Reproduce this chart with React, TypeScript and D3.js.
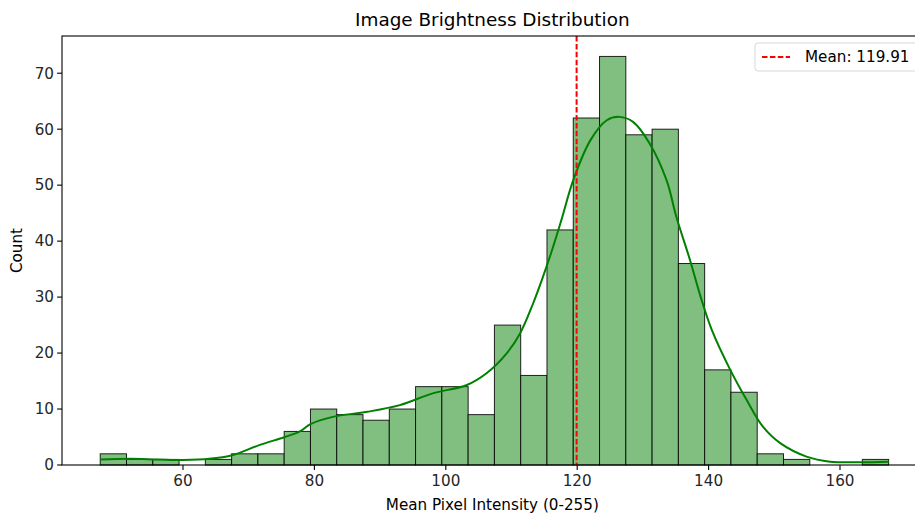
import React from 'react';
import * as d3 from 'd3';

// histogram bins (30 bins, ~4 units wide)
const binStart = 47.4;
const binWidth = 4.0;
const counts = [2, 1, 1, 0, 1, 2, 2, 6, 10, 9, 8, 10, 14, 14, 9, 25, 16, 42, 62, 73, 59, 60, 36, 17, 13, 2, 1, 0, 0, 1];

// kde curve (value, count)
const kdeX = [47.4, 52, 56, 60, 64, 67.6, 71.7, 75.5, 77.8, 79.4, 82.8, 88, 93, 98, 103.2, 106.2, 109.3, 111.3, 113.3, 114.6, 116.2, 117.6, 119.4, 122, 124.5, 126.4, 128.5, 131, 133.6, 135.1, 137.2, 138.8, 140.5, 143.3, 145.8, 148.3, 150.9, 154.9, 158.5, 163, 167.4];
const kdeY = [1.0, 1.1, 1.0, 0.9, 1.1, 1.8, 3.6, 5.0, 6.0, 7.3, 8.6, 9.5, 10.7, 12.8, 14.3, 16.4, 20, 23.5, 28.9, 33, 38.5, 43.8, 50.9, 58, 61.6, 62.2, 61.3, 57.5, 50.9, 44.3, 36.5, 30, 24.1, 17, 11.6, 6.8, 3.9, 1.5, 0.6, 0.5, 0.6];

const meanValue = 119.91;
const xTicks = [60, 80, 100, 120, 140, 160];
const yTicks = [0, 10, 20, 30, 40, 50, 60, 70];

const W = 915, H = 514;
const left = 62, top = 36, bottom = 465;

export default function App() {
  const x = d3.scaleLinear().domain([60, 160]).range([183, 840]);
  const y = d3.scaleLinear().domain([0, 76.65]).range([bottom, top]);
  const right = x(173.5);

  const kde = kdeX.map((v, i) => [v, kdeY[i]] as [number, number]);
  const line = d3.line<[number, number]>()
    .x(d => x(d[0]))
    .y(d => y(d[1]))
    .curve(d3.curveCatmullRom);

  const font = 'DejaVu Sans, sans-serif';
  const fs = 15.2;

  return (
    <svg width={W} height={H} style={{ position: 'fixed', left: 0, top: 0, background: '#fff' }} fontFamily={font}>
      {counts.map((c, i) => {
        const x0 = x(binStart + i * binWidth);
        const x1 = x(binStart + (i + 1) * binWidth);
        return (
          <rect key={i} x={x0} y={y(c)} width={x1 - x0} height={y(0) - y(c)}
            fill="#80bf80" stroke="#000" strokeWidth={1} strokeOpacity={0.85} />
        );
      })}
      <path d={line(kde) || ''} fill="none" stroke="#008000" strokeWidth={2} />
      <line x1={x(meanValue)} x2={x(meanValue)} y1={top} y2={bottom}
        stroke="#ff0000" strokeWidth={2} strokeDasharray="5.5,2.4" />

      {/* spines */}
      <rect x={left} y={top} width={right - left} height={bottom - top} fill="none" stroke="#000" strokeWidth={1.1} />

      {xTicks.map(t => (
        <g key={t} transform={`translate(${x(t)},${bottom})`}>
          <line y2={4.9} stroke="#000" strokeWidth={1.1} />
          <text y={21} textAnchor="middle" fontSize={fs} fill="#262626">{t}</text>
        </g>
      ))}
      {yTicks.map(t => (
        <g key={t} transform={`translate(${left},${y(t)})`}>
          <line x2={-4.9} stroke="#000" strokeWidth={1.1} />
          <text x={-8} dy="0.35em" textAnchor="end" fontSize={fs} fill="#262626">{t}</text>
        </g>
      ))}

      <text x={(left + right) / 2 - 3} y={26} textAnchor="middle" fontSize={18.4} fill="#000">Image Brightness Distribution</text>
      <text x={(left + right) / 2 - 3} y={510} textAnchor="middle" fontSize={fs} fill="#000">Mean Pixel Intensity (0-255)</text>
      <text transform={`translate(22,${(top + bottom) / 2}) rotate(-90)`} textAnchor="middle" fontSize={fs} fill="#000">Count</text>

      {/* legend */}
      <rect x={755} y={43} width={180} height={28} rx={3} fill="#fff" fillOpacity={0.8} stroke="#d6d6d6" strokeWidth={1} />
      <line x1={762} x2={790} y1={57} y2={57} stroke="#ff0000" strokeWidth={2} strokeDasharray="5.5,2.4" />
      <text x={805} y={57} dy="0.35em" fontSize={fs} fill="#000">Mean: 119.91</text>
    </svg>
  );
}
